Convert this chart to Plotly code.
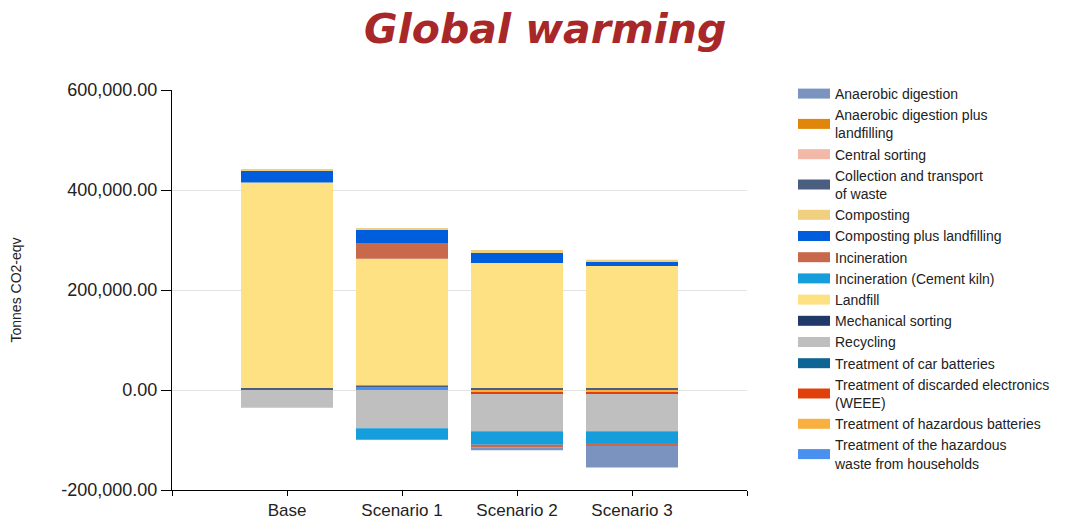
import plotly.graph_objects as go

categories = ["Base", "Scenario 1", "Scenario 2", "Scenario 3"]

# Legend order (alphabetical, as displayed)
legend_names = [
    "Anaerobic digestion",
    "Anaerobic digestion plus<br>landfilling",
    "Central sorting",
    "Collection and transport<br>of waste",
    "Composting",
    "Composting plus landfilling",
    "Incineration",
    "Incineration (Cement kiln)",
    "Landfill",
    "Mechanical sorting",
    "Recycling",
    "Treatment of car batteries",
    "Treatment of discarded electronics<br>(WEEE)",
    "Treatment of hazardous batteries",
    "Treatment of the hazardous<br>waste from households",
]

# Values in tonnes CO2-eqv per category (Base, S1, S2, S3)
anaerobic_digestion = [0, 0, -6000, -43300]
anaerobic_digestion_landfill = [0, 0, 0, 0]
central_sorting = [0, 0, 0, 0]
collection_transport = [4000, 3000, 4000, 4000]
composting = [1500, 2000, 6000, 3300]
composting_landfill = [24000, 26700, 20000, 9300]
incineration = [0, 31400, -5300, -6000]
incineration_cement = [0, -22700, -26700, -23300]
landfill = [411000, 253400, 250000, 244000]
mechanical_sorting = [0, 0, 0, 0]
recycling = [-35400, -76700, -74600, -74600]
car_batteries = [0, 0, 0, 0]
weee = [0, 0, -4000, -4000]
hazardous_batteries = [0, 0, -4000, -4000]
hazardous_households = [0, 6000, 0, 0]

colors = [
    "#7a93bf", "#e0860b", "#f2b8a8", "#4a5f80", "#f0d080",
    "#005ddc", "#c8694b", "#159ddc", "#fde183", "#1f3a68",
    "#bfbfbf", "#0e6494", "#e0400c", "#f8b040", "#4a90ee",
]

series = [
    anaerobic_digestion, anaerobic_digestion_landfill, central_sorting,
    collection_transport, composting, composting_landfill, incineration,
    incineration_cement, landfill, mechanical_sorting, recycling,
    car_batteries, weee, hazardous_batteries, hazardous_households,
]

# stacking order (closest to zero first), as indices into legend list
stack_order = [14, 13, 12, 11, 3, 10, 9, 8, 7, 6, 5, 4, 2, 1, 0]

y_tick_values = [-200000, 0, 200000, 400000, 600000]
y_tick_labels = ["-200,000.00", "0.00", "200,000.00", "400,000.00", "600,000.00"]

x_pos = list(range(len(categories)))

fig = go.Figure()
for idx in stack_order:
    fig.add_trace(go.Bar(
        x=x_pos, y=series[idx], name=legend_names[idx],
        marker=dict(color=colors[idx], line=dict(width=0)),
        showlegend=False,
    ))

# legend entries with wide rectangular swatches
for idx, name in enumerate(legend_names):
    fig.add_trace(go.Scatter(
        x=[None], y=[None], mode="lines", name=name,
        line=dict(color=colors[idx], width=12),
        legendrank=idx + 1, hoverinfo="skip",
    ))

fig.update_layout(
    width=1086, height=523,
    barmode="relative", bargap=0.2,
    plot_bgcolor="white", paper_bgcolor="white",
    margin=dict(l=172, r=339, t=90, b=33),
    font=dict(family="Liberation Sans, Arial, sans-serif", color="#222"),
    title=dict(
        text="Global warming", x=0.502, xref="container", xanchor="center",
        y=0.946, yref="container", yanchor="middle",
        font=dict(family="DejaVu Sans", size=41, color="#a8282a",
                  weight="bold", style="italic"),
    ),
    legend=dict(
        x=1.08, xanchor="left", y=1.03, yanchor="top",
        traceorder="normal", font=dict(size=14, color="#222"),
        bgcolor="rgba(0,0,0,0)", maxheight=480, itemwidth=32,
    ),
    showlegend=True,
)

fig.update_xaxes(
    range=[-1, 4], tickvals=[-1] + x_pos + [4], ticktext=[""] + categories + [""],
    showline=True, linecolor="black", linewidth=1,
    ticks="outside", ticklen=5, tickcolor="black",
    showgrid=False, zeroline=False, tickfont=dict(size=17),
    ticklabelstandoff=0, automargin=False,
)
fig.update_yaxes(
    range=[-200000, 600000], tickvals=y_tick_values, ticktext=y_tick_labels,
    showline=True, linecolor="black", linewidth=1,
    ticks="outside", ticklen=10, tickcolor="black",
    showgrid=True, gridcolor="#e3e3e3", gridwidth=1, zeroline=False,
    tickfont=dict(size=18), automargin=False,
    title=dict(text="Tonnes CO2-eqv", font=dict(size=14), standoff=36),
)

fig.write_html("out.html")
